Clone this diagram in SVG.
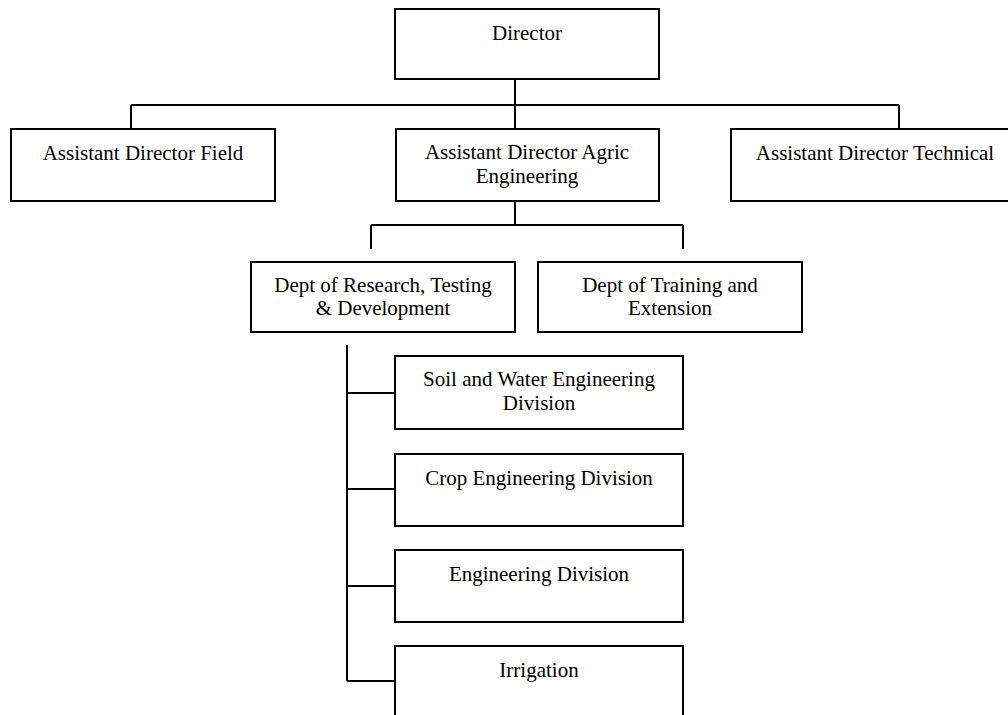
<svg xmlns="http://www.w3.org/2000/svg" width="1008" height="715" viewBox="0 0 1008 715">
  <style>
    .box { fill: #ffffff; stroke: #000000; stroke-width: 2; }
    .lbl { font-family: "Liberation Serif", "Times New Roman", serif; font-size: 21px; fill: #000000; text-anchor: middle; }
    .wire { fill: none; stroke: #000000; stroke-width: 2; }
  </style>
  <rect width="1008" height="715" fill="#ffffff"/>

  <g id="connectors">
    <!-- Director to assistant directors -->
    <path class="wire" d="M515 79 V105 M131 105 H899 M131 105 V129 M515 105 V129 M899 105 V129"/>
    <!-- Agric engineering to departments -->
    <path class="wire" d="M515 201 V225 M371 225 H683 M371 225 V249 M683 225 V249"/>
    <!-- Research department to divisions -->
    <path class="wire" d="M347 345 V681 M347 393 H395 M347 489 H395 M347 586 H395 M347 681 H395"/>
  </g>

  <g id="director">
    <rect class="box" x="395" y="9" width="264" height="70"/>
    <text class="lbl" x="527" y="40">Director</text>
  </g>

  <g id="ad-field">
    <rect class="box" x="11" y="129" width="264" height="72"/>
    <text class="lbl" x="143" y="160">Assistant Director Field</text>
  </g>

  <g id="ad-agric">
    <rect class="box" x="396" y="129" width="263" height="72"/>
    <text class="lbl" x="527" y="159">Assistant Director Agric</text>
    <text class="lbl" x="527" y="183">Engineering</text>
  </g>

  <g id="ad-technical">
    <rect class="box" x="731" y="129" width="288" height="72"/>
    <text class="lbl" x="875" y="160">Assistant Director Technical</text>
  </g>

  <g id="dept-research">
    <rect class="box" x="251" y="262" width="264" height="70"/>
    <text class="lbl" x="383" y="292">Dept of Research, Testing</text>
    <text class="lbl" x="383" y="315">&amp; Development</text>
  </g>

  <g id="dept-training">
    <rect class="box" x="538" y="262" width="264" height="70"/>
    <text class="lbl" x="670" y="292">Dept of Training and</text>
    <text class="lbl" x="670" y="315">Extension</text>
  </g>

  <g id="div-soil-water">
    <rect class="box" x="395" y="356" width="288" height="73"/>
    <text class="lbl" x="539" y="386">Soil and Water Engineering</text>
    <text class="lbl" x="539" y="410">Division</text>
  </g>

  <g id="div-crop">
    <rect class="box" x="395" y="454" width="288" height="72"/>
    <text class="lbl" x="539" y="485">Crop Engineering Division</text>
  </g>

  <g id="div-engineering">
    <rect class="box" x="395" y="550" width="288" height="72"/>
    <text class="lbl" x="539" y="581">Engineering Division</text>
  </g>

  <g id="div-irrigation">
    <rect class="box" x="395" y="646" width="288" height="80"/>
    <text class="lbl" x="539" y="677">Irrigation</text>
  </g>
</svg>
